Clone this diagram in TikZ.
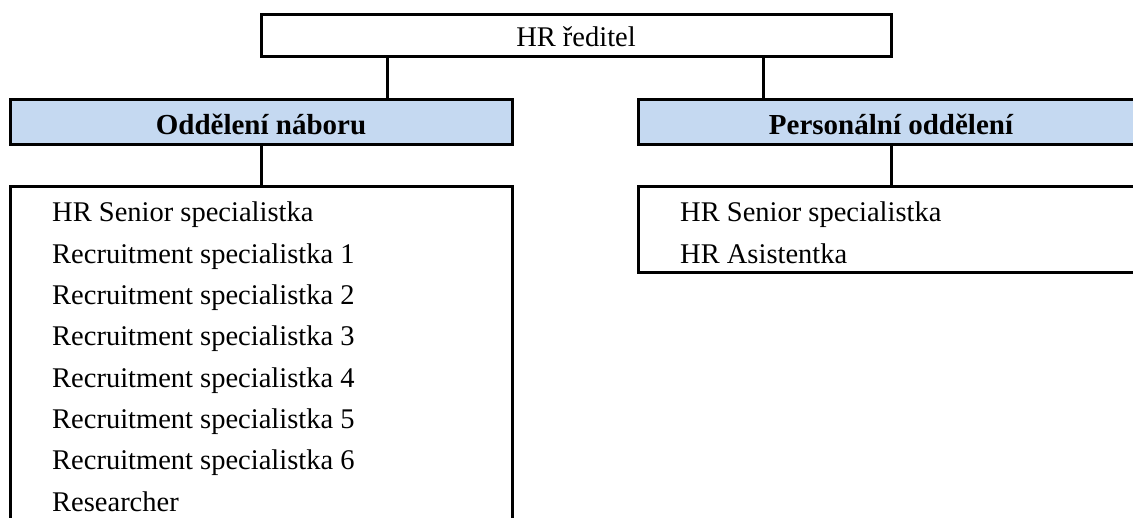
\documentclass[tikz,border=0pt]{standalone}
\usepackage{fontspec}
\setmainfont{Liberation Serif}
\definecolor{deptblue}{RGB}{197,217,241}
\begin{document}
\begin{tikzpicture}[x=1pt,y=-1pt,
  box/.style={draw=black, line width=3pt, rectangle, inner sep=0pt, outer sep=0pt},
  topbox/.style={box, fill=white, font=\fontsize{28.5}{30}\selectfont, text height=23pt, text depth=1pt},
  deptbox/.style={box, fill=deptblue, font=\fontsize{29}{30}\selectfont\bfseries, text height=26pt, text depth=1pt},
  listbox/.style={box, fill=white},
  item/.style={anchor=base west, inner sep=0pt, font=\fontsize{28.5}{30}\selectfont},
  link/.style={draw=black, line width=3pt}]
\useasboundingbox (0,0) rectangle (1133,518);
\clip (0,0) rectangle (1133,518);
\fill[white] (0,0) rectangle (1133,518);

% boxes
\node[topbox, minimum width=630pt, minimum height=42pt] (dir) at (576,36) {HR ředitel};
\node[deptbox, minimum width=502pt, minimum height=45pt] (recr) at (261,122.5) {Oddělení náboru};
\node[deptbox, minimum width=506pt, minimum height=45pt] (pers) at (891,122.5) {Personální oddělení};
\node[listbox, minimum width=502pt, minimum height=353pt] (recrlist) at (261,363.5) {};
\node[listbox, minimum width=506pt, minimum height=86pt] (perslist) at (891,230) {};

% connectors
\coordinate (cL) at (387,0);
\coordinate (cR) at (763,0);
\draw[link] (dir.south -| cL) -- (recr.north -| cL);
\draw[link] (dir.south -| cR) -- (pers.north -| cR);
\draw[link] (recr.south) -- (recrlist.north);
\draw[link] (pers.south) -- (perslist.north);

% list items
\node[item] (l1) at (52,222) {HR Senior specialistka};
\node[item] (l2) at (52,263.3) {Recruitment specialistka 1};
\node[item] (l3) at (52,304.6) {Recruitment specialistka 2};
\node[item] (l4) at (52,345.9) {Recruitment specialistka 3};
\node[item] (l5) at (52,387.2) {Recruitment specialistka 4};
\node[item] (l6) at (52,428.5) {Recruitment specialistka 5};
\node[item] (l7) at (52,469.8) {Recruitment specialistka 6};
\node[item] (l8) at (52,511.1) {Researcher};

\node[item] (r1) at (680,222) {HR Senior specialistka};
\node[item] (r2) at (680,263.3) {HR Asistentka};
\end{tikzpicture}
\end{document}
